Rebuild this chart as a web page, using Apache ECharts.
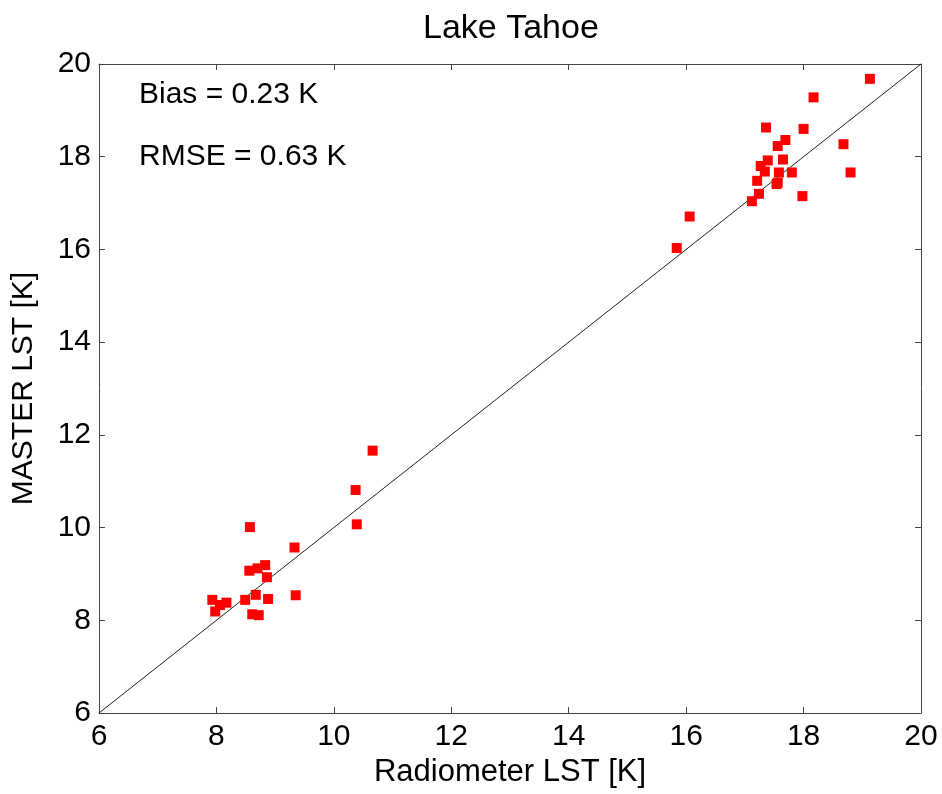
<!DOCTYPE html>
<html>
<head>
<meta charset="utf-8">
<title>Lake Tahoe</title>
<script src="https://cdn.jsdelivr.net/npm/echarts@6/dist/echarts.min.js"></script>
<style>
  html, body { margin: 0; padding: 0; background: #fff; }
  #main { width: 942px; height: 794px; }
</style>
</head>
<body>
<div id="main"></div>
<script>
// radiometer LST (x) and MASTER LST (y)
var radiometer = [
  7.93, 7.98, 8.06, 8.17, 8.49, 8.56, 8.57, 8.61, 8.67, 8.70, 8.72, 8.83, 8.86, 8.88, 9.33, 9.35,
  10.37, 10.39, 10.66,
  15.84, 16.06, 17.12, 17.21, 17.24, 17.27, 17.34, 17.36, 17.39, 17.54, 17.56, 17.56, 17.58,
  17.65, 17.69, 17.80, 17.98, 18.00, 18.17, 18.68, 18.80, 19.13
];
var master = [
  8.44, 8.19, 8.33, 8.38, 8.44, 9.07, 10.01, 8.13, 8.55, 9.12, 8.11, 9.19, 8.93, 8.46, 9.57, 8.54,
  10.81, 10.07, 11.66,
  16.03, 16.71, 17.04, 17.48, 17.20, 17.80, 17.68, 18.63, 17.92, 17.41, 17.44, 18.23, 17.66,
  17.94, 18.36, 17.66, 17.15, 18.60, 19.28, 18.27, 17.66, 19.68
];
var axisMin = 6, axisMax = 20, step = 2;
var biasText = 'Bias = 0.23 K';
var rmseText = 'RMSE = 0.63 K';

var points = radiometer.map(function (x, i) { return [x, master[i]]; });
var font = 'Liberation Sans, Arial, sans-serif';

var myChart = echarts.init(document.getElementById('main'));

// 四周都有刻度，像 matlab 的 box on
function xAx(pos, show) {
  return {
    type: 'value', position: pos, min: axisMin, max: axisMax, interval: step,
    name: show ? 'Radiometer LST [K]' : '', nameLocation: 'middle', nameGap: 35,
    nameTextStyle: { color: '#000', fontSize: 31, fontFamily: font },
    axisLine: { show: true, onZero: false, lineStyle: { color: '#444', width: 1 } },
    axisTick: { show: true, inside: true, length: 6, lineStyle: { color: '#444' } },
    axisLabel: { show: show, color: '#000', fontSize: 30, fontFamily: font, margin: 9 },
    splitLine: { show: false }
  };
}
function yAx(pos, show) {
  return {
    type: 'value', position: pos, min: axisMin, max: axisMax, interval: step,
    name: show ? 'MASTER LST [K]' : '', nameLocation: 'middle', nameGap: 60,
    nameTextStyle: { color: '#000', fontSize: 30, fontFamily: font },
    axisLine: { show: true, onZero: false, lineStyle: { color: '#444', width: 1 } },
    axisTick: { show: true, inside: true, length: 6, lineStyle: { color: '#444' } },
    axisLabel: { show: show, color: '#000', fontSize: 30, fontFamily: font, margin: 8 },
    splitLine: { show: false }
  };
}

var option = {
  backgroundColor: '#ffffff',
  animation: false,
  title: {
    text: 'Lake Tahoe', left: 418, top: 7,
    textStyle: { color: '#000', fontSize: 34, fontWeight: 'normal', fontFamily: font }
  },
  grid: { left: 99, right: 21, top: 64, bottom: 81 },
  xAxis: [xAx('bottom', true), xAx('top', false)],
  yAxis: [yAx('left', true), yAx('right', false)],
  graphic: [
    { type: 'text', left: 139, top: 80, style: { text: biasText, fontSize: 30, fontFamily: font, fill: '#000' } },
    { type: 'text', left: 139, top: 142, style: { text: rmseText, fontSize: 30, fontFamily: font, fill: '#000' } }
  ],
  series: [
    {
      name: '1:1', type: 'line', data: [[axisMin, axisMin], [axisMax, axisMax]],
      symbol: 'none', lineStyle: { color: '#222', width: 1 }, z: 1
    },
    {
      name: 'LST', type: 'scatter', data: points,
      symbol: 'rect', symbolSize: 10,
      itemStyle: { color: '#ff0000', opacity: 1 }, z: 2
    }
  ]
};

myChart.setOption(option);
</script>
</body>
</html>
